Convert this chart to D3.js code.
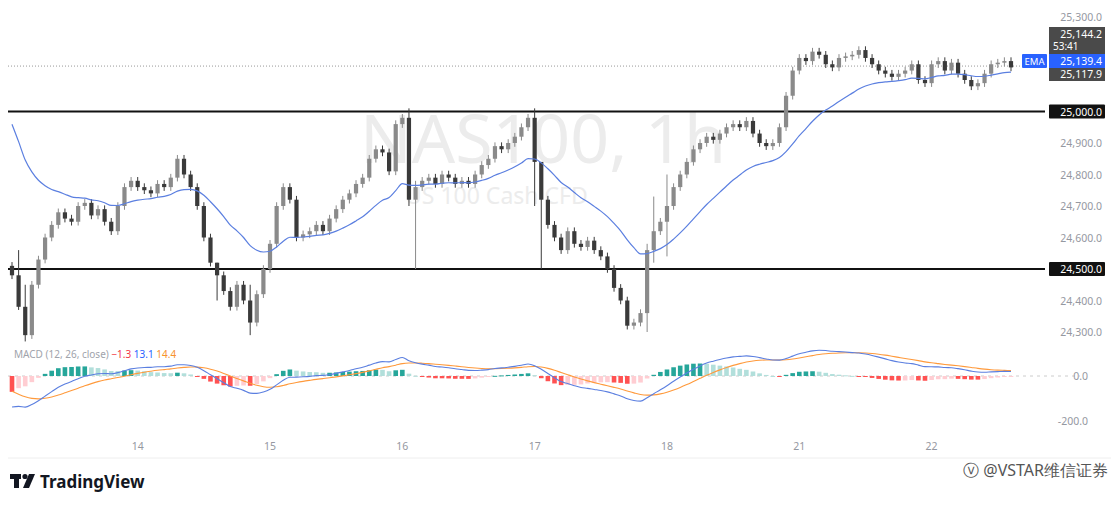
<!DOCTYPE html>
<html>
<head>
<meta charset="UTF-8" />
<script src="https://d3js.org/d3.v7.min.js"></script>
<style>
  body { margin: 0; background: #fff; font-family: "Noto Sans", "Open Sans", sans-serif; }
</style>
</head>
<body>
<svg id="svg" width="1119" height="506"></svg>
<script>
// hourly closes
const closes = [
  24480, 24380, 24290,
  24450, 24530, 24600, 24640, 24680, 24660,
  24650, 24700, 24710, 24670, 24690, 24650,
  24620, 24700, 24760, 24780, 24760,
  24750, 24740, 24770, 24760, 24790, 24850, 24800,
  24760, 24700, 24600, 24520,
  24480, 24430, 24380, 24450, 24400, 24330, 24420,
  24500, 24580, 24700, 24760, 24720, 24600, 24610, 24620,
  24640, 24620, 24660, 24690, 24720, 24740, 24770, 24790,
  24850, 24880, 24870, 24810, 24960, 24980, 24720,
  24760, 24780, 24790, 24770, 24800, 24790, 24770, 24780,
  24770, 24800, 24830, 24850, 24890, 24880, 24900, 24920, 24950, 24980,
  24840,
  24720, 24640, 24600, 24560, 24620, 24580, 24570, 24590, 24560, 24540, 24500, 24440, 24400,
  24320, 24330, 24360, 24560,
  24620, 24650, 24700, 24760, 24800, 24840, 24880, 24900,
  24920, 24910, 24930, 24950, 24960, 24950, 24970, 24930, 24900, 24890,
  24900, 24950, 25050, 25130,
  25170, 25160, 25190, 25180, 25150, 25140, 25170, 25175, 25180, 25195, 25170, 25150, 25130, 25120, 25110, 25120, 25130,
  25150, 25100, 25090, 25150, 25160, 25130, 25155, 25120, 25100, 25080, 25090, 25120, 25150, 25155, 25160, 25140
];
const firstOpen = 24510;
// notable long wicks: [index, high, low]
const longWicks = [
  [1, 24560, 24370], [2, 24450, 24270], [31, 24520, 24400], [36, 24450, 24290],
  [60, 25010, 24700], [61, 24780, 24500], [79, 25010, 24700], [80, 24740, 24500],
  [96, 24580, 24300], [97, 24730, 24520], [99, 24800, 24540]
];
const dayTicks = [["14", 19], ["15", 39], ["16", 59], ["17", 79], ["18", 99], ["21", 119], ["22", 139]];
const priceTicks = [25300, 24900, 24800, 24700, 24600, 24400, 24300];
const levels = [25000, 24500];
const lastPrice = 25144.2, emaLabel = 25139.4, lowLabel = 25117.9;
const macdTicks = [0, -200];

const svg = d3.select("#svg");
const left = 8, right = 1045;
const x = d3.scaleLinear().domain([0, closes.length - 1]).range([12, 1011]);
const y = d3.scaleLinear().domain([24300, 25300]).range([332, 17]);
const ym = d3.scaleLinear().domain([-200, 0]).range([421, 376]);
const fmt = d3.format(",.1f");

const candles = closes.map((c, i) => {
  const o = i === 0 ? firstOpen : closes[i - 1];
  let h = Math.max(o, c) + 12, l = Math.min(o, c) - 12;
  const w = longWicks.find(d => d[0] === i);
  if (w) { h = w[1]; l = w[2]; }
  return { i, o, h, l, c };
});

function ema(vals, n, seed) {
  const k = 2 / (n + 1); let e = seed;
  return vals.map(v => (e = v * k + e * (1 - k)));
}
const ema20 = ema(closes, 20, 25010);
const e12 = ema(closes, 12, 24470), e26 = ema(closes, 26, 24620);
const macd = e12.map((v, i) => v - e26[i]);
const signal = ema(macd, 9, -50);
const hist = macd.map((v, i) => v - signal[i]);

// watermark
svg.append("text").attr("x", 360).attr("y", 163).attr("font-size", 68).attr("fill", "#ececec").text("NAS100, 1h");
svg.append("text").attr("x", 405).attr("y", 204).attr("font-size", 23).attr("fill", "#ececec").text("US 100 Cash CFD");

// last price dotted line
svg.append("line").attr("x1", left).attr("x2", right).attr("y1", y(lastPrice)).attr("y2", y(lastPrice))
  .attr("stroke", "#999").attr("stroke-dasharray", "1,2");

// levels
svg.selectAll(".lvl").data(levels).enter().append("line")
  .attr("x1", left).attr("x2", right).attr("y1", d => y(d)).attr("y2", d => y(d))
  .attr("stroke", "#111").attr("stroke-width", 2);

// candles
const cw = 4.2;
const g = svg.append("g");
g.selectAll(".wick").data(candles).enter().append("line")
  .attr("x1", d => x(d.i)).attr("x2", d => x(d.i)).attr("y1", d => y(d.h)).attr("y2", d => y(d.l))
  .attr("stroke", d => d.c >= d.o ? "#8a8a8a" : "#3a3a3a").attr("stroke-width", 1);
g.selectAll(".body").data(candles).enter().append("rect")
  .attr("x", d => x(d.i) - cw / 2).attr("width", cw)
  .attr("y", d => y(Math.max(d.o, d.c))).attr("height", d => Math.max(1.5, Math.abs(y(d.o) - y(d.c))))
  .attr("fill", d => d.c >= d.o ? "#8a8a8a" : "#3a3a3a");

// EMA
svg.append("path").datum(ema20).attr("fill", "none").attr("stroke", "#5b7fe0").attr("stroke-width", 1.2)
  .attr("d", d3.line().x((d, i) => x(i)).y(d => y(d)).curve(d3.curveMonotoneX));

// right price axis
svg.selectAll(".pt").data(priceTicks).enter().append("text")
  .attr("x", 1102).attr("y", d => y(d) + 4).attr("text-anchor", "end")
  .attr("font-size", 10.5).attr("fill", "#9598a1").text(d => fmt(d));
levels.forEach(v => {
  svg.append("rect").attr("x", 1049).attr("y", y(v) - 7).attr("width", 56).attr("height", 14).attr("fill", "#111").attr("rx", 1);
  svg.append("text").attr("x", 1102).attr("y", y(v) + 4).attr("text-anchor", "end").attr("font-size", 10.5).attr("fill", "#fff").text(fmt(v));
});
svg.append("rect").attr("x", 1049).attr("y", 27).attr("width", 56).attr("height", 27).attr("fill", "#4a4a4a");
svg.append("text").attr("x", 1102).attr("y", 38).attr("text-anchor", "end").attr("font-size", 10.5).attr("fill", "#fff").text(fmt(lastPrice));
svg.append("text").attr("x", 1049 + 4).attr("y", 50).attr("font-size", 10).attr("fill", "#fff").text("53:41");
svg.append("rect").attr("x", 1049).attr("y", 54).attr("width", 56).attr("height", 14).attr("fill", "#2962ff");
svg.append("text").attr("x", 1102).attr("y", 65).attr("text-anchor", "end").attr("font-size", 10.5).attr("fill", "#fff").text(fmt(emaLabel));
svg.append("rect").attr("x", 1022).attr("y", 54).attr("width", 25).attr("height", 14).attr("fill", "#2962ff").attr("rx", 1);
svg.append("text").attr("x", 1034.5).attr("y", 65).attr("text-anchor", "middle").attr("font-size", 9.5).attr("fill", "#fff").text("EMA");
svg.append("rect").attr("x", 1049).attr("y", 68).attr("width", 56).attr("height", 13).attr("fill", "#4a4a4a");
svg.append("text").attr("x", 1102).attr("y", 78).attr("text-anchor", "end").attr("font-size", 10.5).attr("fill", "#fff").text(fmt(lowLabel));

// MACD pane
svg.append("line").attr("x1", left).attr("x2", 1080).attr("y1", ym(0)).attr("y2", ym(0))
  .attr("stroke", "#ccc").attr("stroke-dasharray", "3,4");
const hw = 4.6;
svg.selectAll(".hist").data(hist).enter().append("rect")
  .attr("x", (d, i) => x(i) - hw / 2).attr("width", hw)
  .attr("y", d => d >= 0 ? ym(d) : ym(0)).attr("height", d => Math.max(1, Math.abs(ym(d) - ym(0))))
  .attr("fill", (d, i) => {
    const p = i > 0 ? hist[i - 1] : d;
    if (d >= 0) return d >= p ? "#26a69a" : "#b2dfdb";
    return d <= p ? "#ff5252" : "#ffcdd2";
  });
svg.append("path").datum(signal).attr("fill", "none").attr("stroke", "#ff9a3c").attr("stroke-width", 1.1)
  .attr("d", d3.line().x((d, i) => x(i)).y(d => ym(d)).curve(d3.curveMonotoneX));
svg.append("path").datum(macd).attr("fill", "none").attr("stroke", "#5b7fe0").attr("stroke-width", 1.1)
  .attr("d", d3.line().x((d, i) => x(i)).y(d => ym(d)).curve(d3.curveMonotoneX));
svg.selectAll(".mt").data(macdTicks).enter().append("text")
  .attr("x", 1088).attr("y", d => ym(d) + 4).attr("text-anchor", "end")
  .attr("font-size", 10.5).attr("fill", "#9598a1").text(d => d.toFixed(1));

const lg = svg.append("text").attr("x", 14).attr("y", 358).attr("font-size", 10);
lg.append("tspan").attr("fill", "#a0a3ab").text("MACD (12, 26, close)  ");
lg.append("tspan").attr("fill", "#f23645").text("\u22121.3  ");
lg.append("tspan").attr("fill", "#2962ff").text("13.1  ");
lg.append("tspan").attr("fill", "#f7922f").text("14.4");

// separator / time axis
svg.append("line").attr("x1", left).attr("x2", 1111).attr("y1", 458).attr("y2", 458).attr("stroke", "#eee");
svg.selectAll(".dt").data(dayTicks).enter().append("text")
  .attr("x", d => x(d[1])).attr("y", 450).attr("text-anchor", "middle")
  .attr("font-size", 10.5).attr("fill", "#9598a1").text(d => d[0]);

// footer logo
const logo = svg.append("g").attr("fill", "#131722");
logo.append("rect").attr("x", 10).attr("y", 474).attr("width", 11).attr("height", 5);
logo.append("rect").attr("x", 14).attr("y", 474).attr("width", 5).attr("height", 14);
logo.append("circle").attr("cx", 25).attr("cy", 476.5).attr("r", 2.6);
logo.append("path").attr("d", "M29,474 L35,474 L29,488 L23,488 Z");
svg.append("text").attr("x", 40).attr("y", 488).attr("font-size", 17).attr("font-weight", 700).attr("fill", "#131722").text("TradingView");
svg.append("text").attr("x", 1108).attr("y", 476).attr("text-anchor", "end").attr("font-size", 16).attr("fill", "#555")
  .text("\u24E5 @VSTAR维信证券");
</script>
</body>
</html>
